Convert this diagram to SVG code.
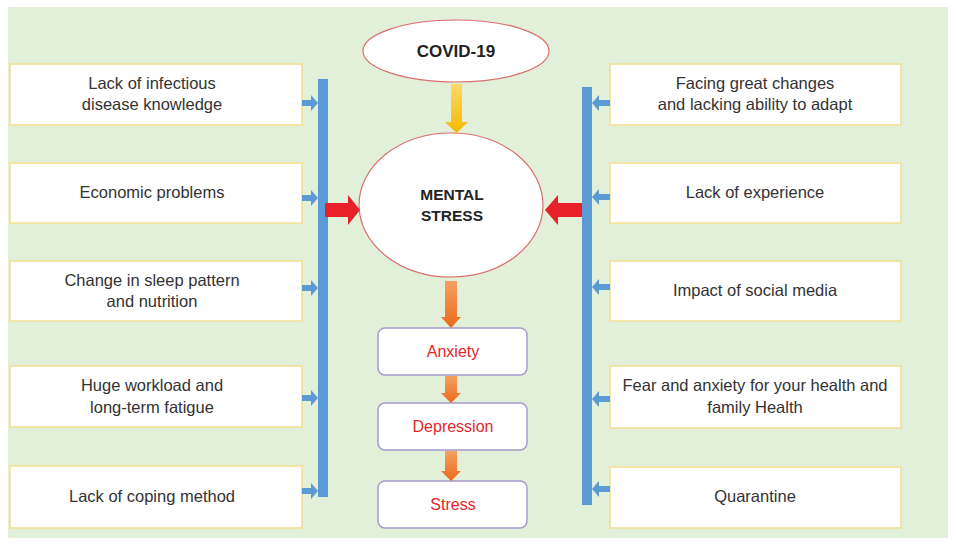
<svg xmlns="http://www.w3.org/2000/svg" width="957" height="545" viewBox="0 0 957 545">
<defs>
<style>
.bg{fill:#e2efd9}
.box{fill:#fff;stroke:#f2df8f;stroke-width:1.5}
.rbox{fill:#fff;stroke:#a899cc;stroke-width:1.5}
.ell{fill:#fff;stroke:#d9706c;stroke-width:1.2}
.t{font-family:"Liberation Sans",Arial,sans-serif;font-size:16.5px;fill:#333;text-anchor:middle}
.b{font-weight:bold;fill:#222;font-size:15.5px}
.r{fill:#e3262b;font-size:16px}
.blue{fill:#5b9bd5}
.red{fill:#e8202a}
</style>
<linearGradient id="gold" x1="0" y1="0" x2="0" y2="1"><stop offset="0" stop-color="#ffd866"/><stop offset="1" stop-color="#f5b800"/></linearGradient>
<linearGradient id="orng" x1="0" y1="0" x2="0" y2="1"><stop offset="0" stop-color="#f4a060"/><stop offset="1" stop-color="#ec6a1c"/></linearGradient>
</defs>
<rect width="957" height="545" fill="#fff"/>
<rect class="bg" x="8" y="7" width="940" height="531"/>

<g id="covid"><ellipse class="ell" cx="456" cy="51" rx="93" ry="31"/><text class="t b" x="456" y="57" style="font-size:17px">COVID-19</text></g>
<g id="mental"><ellipse class="ell" cx="451" cy="205" rx="92" ry="72"/><text class="t b" x="452" y="200">MENTAL</text><text class="t b" x="452" y="221">STRESS</text></g>

<g id="l1"><rect class="box" x="10" y="64" width="292" height="61"/><text class="t" x="152" y="89">Lack of infectious</text><text class="t" x="152" y="110">disease knowledge</text></g>
<g id="l2"><rect class="box" x="10" y="163" width="292" height="60"/><text class="t" x="152" y="198">Economic problems</text></g>
<g id="l3"><rect class="box" x="10" y="261" width="292" height="60"/><text class="t" x="152" y="286">Change in sleep pattern</text><text class="t" x="152" y="307">and nutrition</text></g>
<g id="l4"><rect class="box" x="10" y="366" width="292" height="61"/><text class="t" x="152" y="391">Huge workload and</text><text class="t" x="152" y="413">long-term fatigue</text></g>
<g id="l5"><rect class="box" x="10" y="466" width="292" height="62"/><text class="t" x="152" y="502">Lack of coping method</text></g>

<g id="r1"><rect class="box" x="610" y="64" width="291" height="61"/><text class="t" x="755" y="89">Facing great changes</text><text class="t" x="755" y="110">and lacking ability to adapt</text></g>
<g id="r2"><rect class="box" x="610" y="163" width="291" height="60"/><text class="t" x="755" y="198">Lack of experience</text></g>
<g id="r3"><rect class="box" x="610" y="261" width="291" height="60"/><text class="t" x="755" y="296">Impact of social media</text></g>
<g id="r4"><rect class="box" x="610" y="366" width="291" height="62"/><text class="t" x="755" y="391">Fear and anxiety for your health and</text><text class="t" x="755" y="413">family Health</text></g>
<g id="r5"><rect class="box" x="610" y="467" width="291" height="61"/><text class="t" x="755" y="502">Quarantine</text></g>

<g id="anxiety"><rect class="rbox" x="378" y="328" width="149" height="47" rx="7"/><text class="t r" x="453" y="357">Anxiety</text></g>
<g id="depression"><rect class="rbox" x="378" y="403" width="149" height="47" rx="7"/><text class="t r" x="453" y="432">Depression</text></g>
<g id="stress"><rect class="rbox" x="378" y="481" width="149" height="47" rx="7"/><text class="t r" x="453" y="510">Stress</text></g>

<g id="connectors">
<rect class="blue" x="318" y="79" width="10" height="418"/>
<rect class="blue" x="582" y="87" width="10" height="418"/>
<path class="blue" d="M302,100 h9 v-5 l7,8 l-7,8 v-5 h-9 z"/>
<path class="blue" d="M302,195 h9 v-5 l7,8 l-7,8 v-5 h-9 z"/>
<path class="blue" d="M302,285 h9 v-5 l7,8 l-7,8 v-5 h-9 z"/>
<path class="blue" d="M302,395 h9 v-5 l7,8 l-7,8 v-5 h-9 z"/>
<path class="blue" d="M302,488 h9 v-5 l7,8 l-7,8 v-5 h-9 z"/>
<path class="blue" d="M610,100 h-11 v-5 l-7,8 l7,8 v-5 h11 z"/>
<path class="blue" d="M610,194 h-11 v-5 l-7,8 l7,8 v-5 h11 z"/>
<path class="blue" d="M610,284 h-11 v-5 l-7,8 l7,8 v-5 h11 z"/>
<path class="blue" d="M610,396 h-11 v-5 l-7,8 l7,8 v-5 h11 z"/>
<path class="blue" d="M610,486 h-11 v-5 l-7,8 l7,8 v-5 h11 z"/>
<path class="red" d="M325,203 h23 v-8 l12,15 l-12,15 v-8 h-23 z"/>
<path class="red" d="M582,203 h-24 v-8 l-13,15 l13,15 v-8 h24 z"/>
<path fill="url(#gold)" d="M451,84 h11 v38 h6 l-11.5,11 l-11.5,-11 h6 z"/>
<path fill="url(#orng)" d="M445,281 h12 v36 h4 l-10,11 l-10,-11 h4 z"/>
<path fill="url(#orng)" d="M445,376 h12 v17 h4 l-10,10 l-10,-10 h4 z"/>
<path fill="url(#orng)" d="M445,451 h12 v20 h4 l-10,10 l-10,-10 h4 z"/>
</g>
</svg>
